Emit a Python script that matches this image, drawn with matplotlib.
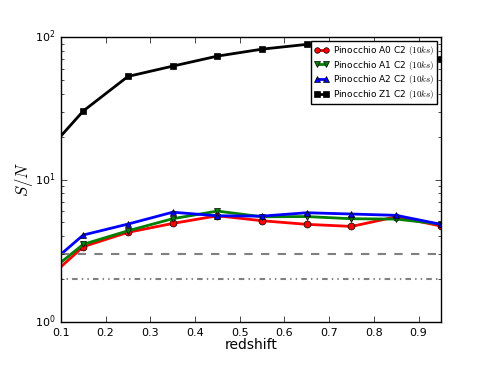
import numpy as np
import matplotlib
matplotlib.use("Agg")
import matplotlib.pyplot as plt

plt.style.use('classic')

z = [0.05, 0.15, 0.25, 0.35, 0.45, 0.55, 0.65, 0.75, 0.85, 0.95]
sn_a0 = [1.76, 3.38, 4.26, 4.92, 5.57, 5.14, 4.85, 4.69, 5.48, 4.72]
sn_a1 = [1.96, 3.51, 4.37, 5.31, 6.01, 5.48, 5.5, 5.31, 5.28, 4.87]
sn_a2 = [2.19, 4.08, 4.87, 5.9, 5.57, 5.54, 5.85, 5.73, 5.61, 4.85]
sn_z1 = [13.5, 30.3, 53.0, 62.6, 73.6, 82.4, 89.0, 90.0, 86.0, 70.0]
labels = ['Pinocchio A0 C2 $(10ks)$', 'Pinocchio A1 C2 $(10ks)$',
          'Pinocchio A2 C2 $(10ks)$', 'Pinocchio Z1 C2 $(10ks)$']
thresholds = [3.0, 2.0]

fig = plt.figure(figsize=(4.91, 3.68), dpi=100)
ax = fig.add_axes([0.124, 0.125, 0.774, 0.774])

ax.plot(z, sn_a0, 'o-', color='r', lw=2, ms=5, label=labels[0])
ax.plot(z, sn_a1, 'v-', color='g', lw=2, ms=5, label=labels[1])
ax.plot(z, sn_a2, '^-', color='b', lw=2, ms=5, label=labels[2])
ax.plot(z, sn_z1, 's-', color='k', lw=2, ms=5, label=labels[3])

ax.axhline(thresholds[0], color='0.5', ls='--', lw=1.5)
ax.axhline(thresholds[1], color='0.5', ls='-.', lw=1.5, dashes=(1, 3, 1, 3, 4, 3))

ax.set_yscale('log')
ax.set_xlim(0.1, 0.95)
ax.set_ylim(1, 100)
ax.set_xticks(np.arange(0.1, 0.95, 0.1))
ax.set_xticklabels(['0.1', '0.2', '0.3', '0.4', '0.5', '0.6', '0.7', '0.8', '0.9'])
ax.tick_params(labelsize=8, pad=4)
ax.set_xlabel('redshift', fontsize=10, labelpad=0)
ax.set_ylabel('$S/N$', fontsize=12, labelpad=0)

leg = ax.legend(loc='upper right', fontsize=6.5, numpoints=2, handlelength=1.6,
                handletextpad=0.5, labelspacing=0.18, borderpad=0.35,
                borderaxespad=0.4, markerscale=0.8)
leg.set_zorder(5)

fig.savefig('out.png', dpi=100)
